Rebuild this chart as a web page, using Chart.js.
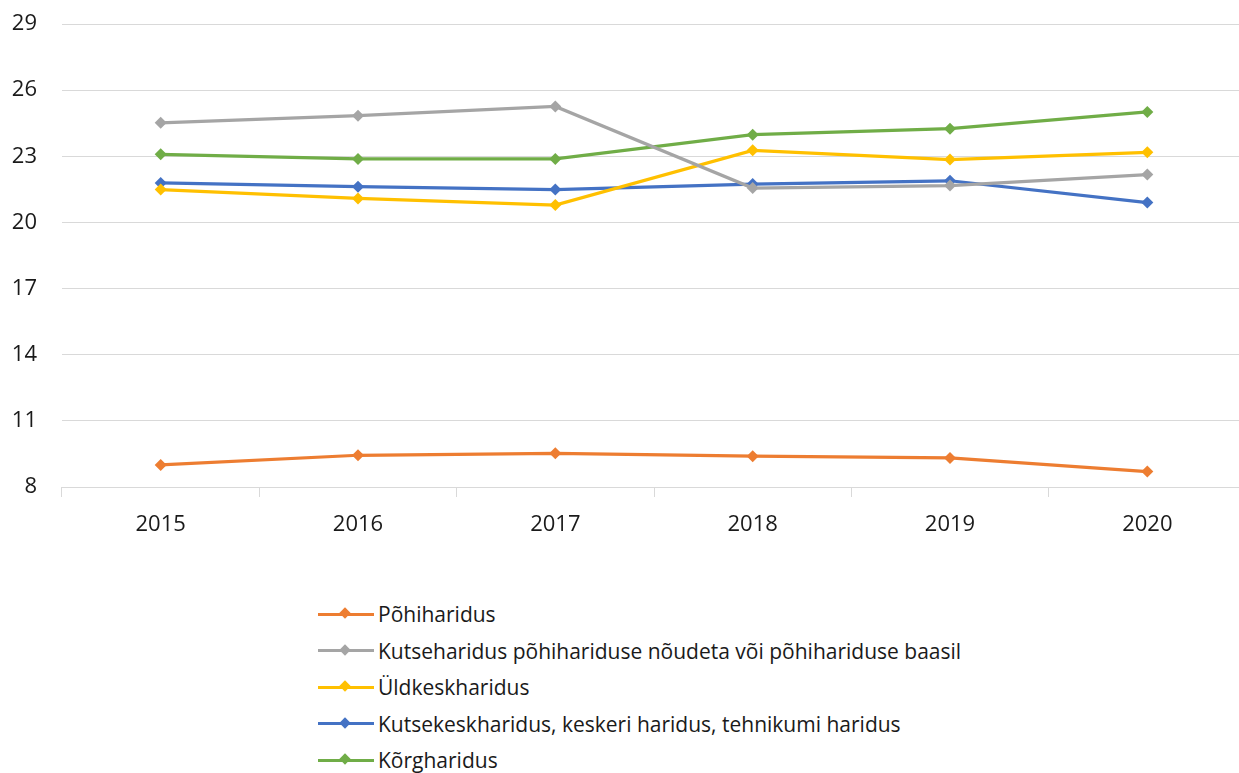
<!DOCTYPE html>
<html>
<head>
<meta charset="utf-8">
<script src="https://cdn.jsdelivr.net/npm/chart.js@4"></script>
<style>
    html, body { margin: 0; padding: 0; background: #fff; overflow: hidden; }
    #wrap { position: relative; width: 1252px; height: 560px; }
    #legend { position: absolute; left: 318px; top: 596px; font-family: "Open Sans", sans-serif; font-size: 21px; color: #1a1a1a; }
    .rida { display: flex; align-items: center; height: 36.5px; }
    .naide { position: relative; width: 56px; height: 16px; margin-right: 4px; }
    .naide .joon { position: absolute; left: 0; right: 0; top: 6.5px; height: 3px; }
    .naide .romb { position: absolute; left: 23px; top: 3px; width: 8px; height: 8px; transform: rotate(45deg); }
</style>
</head>
<body>
<div id="wrap"><canvas id="kayra"></canvas></div>
<div id="legend"></div>
<script>
const aastad = [ '2015', '2016', '2017', '2018', '2019', '2020' ];

const pohiharidus = [ 9.0, 9.44, 9.53, 9.40, 9.32, 8.70 ];
const kutsePohi = [ 24.52, 24.84, 25.26, 21.56, 21.67, 22.17 ];
const yldkesk = [ 21.49, 21.09, 20.79, 23.27, 22.85, 23.18 ];
const kutsekesk = [ 21.79, 21.62, 21.49, 21.74, 21.89, 20.90 ];
const korg = [ 23.09, 22.88, 22.88, 23.98, 24.25, 25.01 ];

const yTicks = [ 8, 11, 14, 17, 20, 23, 26, 29 ];

const VARVID = {
    orange: '#ED7D31',
    grey: '#A5A5A5',
    yellow: '#FFC000',
    blue: '#4472C4',
    green: '#70AD47'
};

function seeria( nimi, andmed, varv )
{
    return {
        label: nimi,
        data: andmed,
        borderColor: varv,
        backgroundColor: varv,
        borderWidth: 3.25,
        pointStyle: 'rectRot',
        pointRadius: 6,
        pointHoverRadius: 6,
        pointBorderWidth: 0,
        tension: 0
    };
}

const data = {
    labels: aastad,
    datasets: [
        seeria( 'Põhiharidus', pohiharidus, VARVID.orange ),
        seeria( 'Kutseharidus põhihariduse nõudeta või põhihariduse baasil', kutsePohi, VARVID.grey ),
        seeria( 'Üldkeskharidus', yldkesk, VARVID.yellow ),
        seeria( 'Kutsekeskharidus, keskeri haridus, tehnikumi haridus', kutsekesk, VARVID.blue ),
        seeria( 'Kõrgharidus', korg, VARVID.green )
    ]
};

Chart.defaults.font.family = '"Open Sans", sans-serif';
Chart.defaults.color = '#1a1a1a';

const config = {
    type: 'line',
    data: data,
    options: {
        responsive: true,
        maintainAspectRatio: false,
        animation: false,
        layout: { padding: { top: 24, right: 0, left: 0, bottom: 0 } },
        plugins: {
            legend: { display: false },
            tooltip: { enabled: false }
        },
        scales: {
            x: {
                offset: true,
                afterFit: function ( scale ) { scale.height = 73; },
                grid: {
                    offset: true,
                    drawOnChartArea: false,
                    drawTicks: true,
                    tickLength: 10,
                    color: '#D9D9D9'
                },
                border: { display: false },
                ticks: {
                    font: { size: 22 },
                    padding: 15
                }
            },
            y: {
                min: 8,
                max: 29,
                afterFit: function ( scale )
                {
                    scale.width = 62;
                    scale.paddingTop = 0;
                    scale.paddingBottom = 0;
                },
                afterBuildTicks: function ( scale )
                {
                    scale.ticks = yTicks.map( function ( v ) { return { value: v }; } );
                },
                grid: {
                    drawTicks: false,
                    color: '#D9D9D9',
                    lineWidth: 1
                },
                border: { display: false },
                ticks: {
                    font: { size: 22 },
                    padding: 25
                }
            }
        }
    }
};

const ctx = document.getElementById( 'kayra' ).getContext( '2d' );
const graafik = new Chart( ctx, config );

// legend as html, one series per row
const legendEl = document.getElementById( 'legend' );
graafik.data.datasets.forEach( function ( ds )
{
    legendEl.innerHTML +=
        '<div class="rida"><span class="naide"><span class="joon" style="background:' + ds.borderColor + '"></span>' +
        '<span class="romb" style="background:' + ds.borderColor + '"></span></span>' +
        '<span>' + ds.label + '</span></div>';
} );
</script>
</body>
</html>
